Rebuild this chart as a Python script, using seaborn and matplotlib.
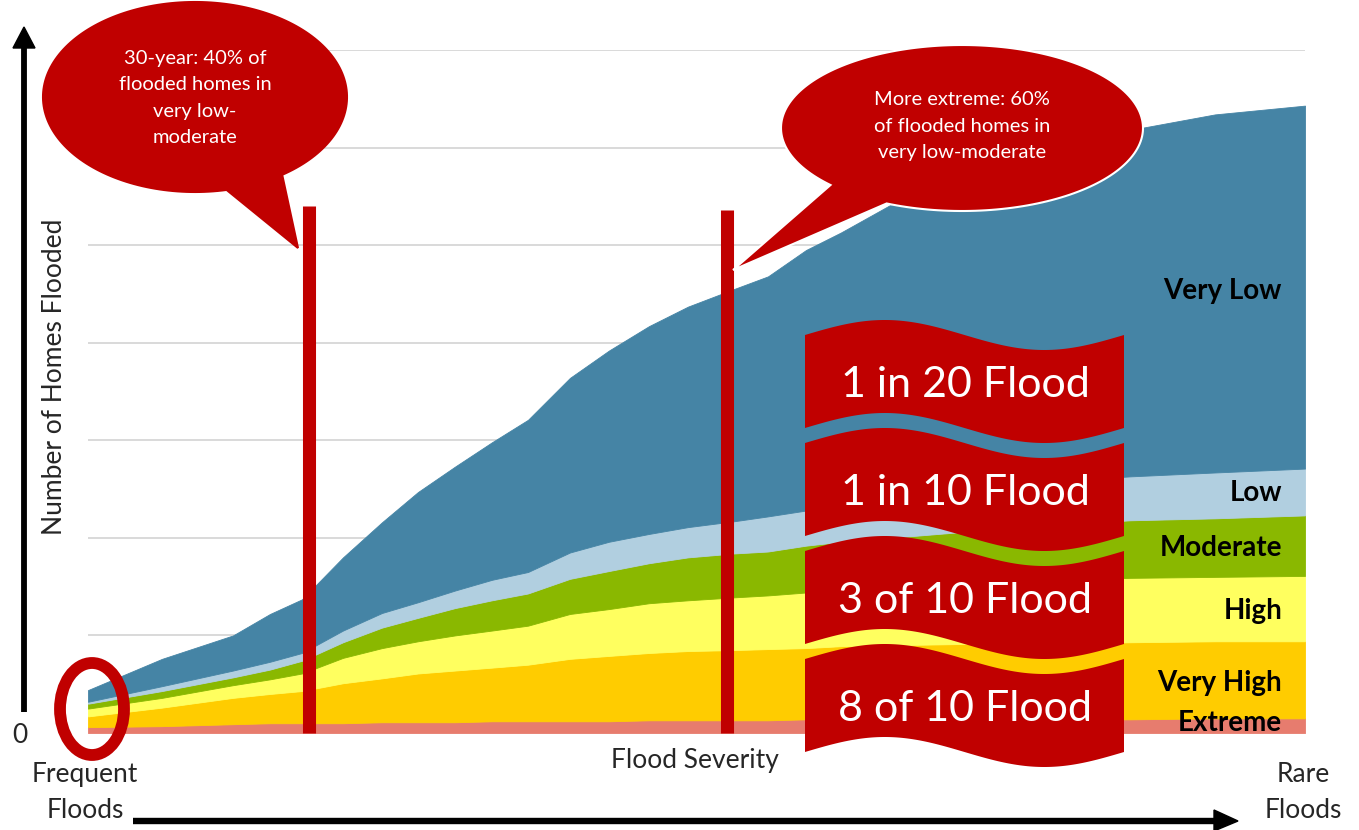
import numpy as np
import matplotlib
matplotlib.use("Agg")
import matplotlib.pyplot as plt
import seaborn as sns
from matplotlib.patches import Ellipse, Polygon
from matplotlib.transforms import Affine2D

W, H = 1359, 830

# ---- data (stacked layer thicknesses) ----
severity = [0, 74, 145, 182, 214, 255, 294, 330, 367, 404, 440, 482, 521, 561,
            600, 646, 680, 718, 753, 802, 862, 922, 982, 1042, 1127, 1217]
extreme = [6, 7, 9, 10, 10, 10, 11, 11, 11, 12, 12, 12, 12, 13, 13, 13, 13, 14,
           14, 14, 14, 14, 14, 14, 15, 15]
very_high = [11, 19, 27, 30, 33, 41, 45, 50, 53, 55, 58, 64, 67, 69, 71, 72, 73,
             73, 75, 76, 77, 78, 78, 79, 79, 79]
high = [8, 10, 13, 15, 18, 26, 31, 33, 36, 38, 40, 46, 48, 51, 52, 54, 55, 57,
        57, 58, 60, 62, 65, 66, 66, 67]
moderate = [5, 7, 8, 10, 13, 16, 21, 24, 28, 31, 33, 36, 39, 41, 44, 45, 45, 48,
            50, 52, 54, 56, 57, 59, 60, 62]
low = [2, 5, 7, 8, 8, 12, 15, 16, 18, 21, 22, 27, 30, 30, 31, 33, 36, 36, 36,
       38, 41, 44, 45, 45, 47, 48]
very_low = [12, 28, 36, 49, 55, 75, 93, 113, 127, 141, 156, 179, 196, 213, 226,
            238, 246, 267, 281, 303, 320, 333, 345, 355, 367, 372]

layer_names = ["Extreme", "Very High", "High", "Moderate", "Low", "Very Low"]
layer_colors = ["#E77C6E", "#FFCC00", "#FFFF5F", "#8AB800", "#B1CFE0", "#4584A5"]

marker_severity = [221, 639]      # 30-year and "more extreme" markers
marker_height = [540, 536]

banner_texts = ["1 in 20 Flood", "1 in 10 Flood", "3 of 10 Flood", "8 of 10 Flood"]

RED = "#C00000"

sns.set_theme(style="white")
plt.rcParams["font.family"] = ["Lato", "DejaVu Sans"]

fig = plt.figure(figsize=(W / 100, H / 100), dpi=100)
ax = fig.add_axes([88 / W, 97 / H, 1217 / W, 683 / H])
px = Affine2D().scale(1 / W, -1 / H).translate(0, 1) + fig.transFigure

ax.stackplot(severity, extreme, very_high, high, moderate, low, very_low,
             colors=sns.color_palette(layer_colors), linewidth=0.6,
             edgecolor="face", zorder=2)
ax.set_xlim(0, 1217)
ax.set_ylim(0, 700)
ax.set_yticks(range(100, 701, 100))
ax.set_yticklabels([])
ax.set_xticks([])
ax.tick_params(length=0)
ax.grid(axis="y", color="#D9D9D9", lw=1.4)
ax.set_axisbelow(True)
sns.despine(ax=ax, left=True, bottom=True)

# red marker bars
ax.vlines(marker_severity, 0, marker_height, colors=RED, lw=9.4,
          zorder=4, clip_on=False)

# layer labels
label_px = [(723, "Extreme"), (683, "Very High"), (611, "High"),
            (548, "Moderate"), (493, "Low"), (291, "Very Low")]
for y, t in label_px:
    fig.text(1282, y, t, transform=px, ha="right", va="center",
             fontsize=20, fontweight="bold", color="black", zorder=6)

# axis arrows
fig.add_artist(plt.Line2D([24, 24], [712, 45], transform=px, color="black",
                          lw=4.2, solid_capstyle="butt"))
fig.add_artist(Polygon([[13, 48], [35, 48], [24, 27]], closed=True,
                       transform=px, color="black"))
fig.add_artist(plt.Line2D([133, 1217], [821, 821], transform=px, color="black",
                          lw=4.6, solid_capstyle="butt"))
fig.add_artist(Polygon([[1214, 810], [1214, 831], [1238, 821]], closed=True,
                       transform=px, color="black"))

# axis texts
fig.text(55, 377, "Number of Homes Flooded", transform=px, rotation=90,
         ha="center", va="center", fontsize=19)
fig.text(20, 735, "0", transform=px, ha="center", va="center", fontsize=19)
fig.text(85, 792, "Frequent\nFloods", transform=px, ha="center", va="center",
         fontsize=19, linespacing=1.55)
fig.text(1303, 792, "Rare\nFloods", transform=px, ha="center", va="center",
         fontsize=19, linespacing=1.55)
fig.text(695, 760, "Flood Severity", transform=px, ha="center", va="center",
         fontsize=19)

# red ring at the origin
fig.add_artist(Ellipse((92, 709), 64, 92, transform=px, fill=False,
                       edgecolor=RED, lw=8.5, zorder=7))


def callout(cx, cy, a, b, ang1, ang2, tip, edge):
    t = np.radians(np.linspace(ang1, ang2 + 360, 200))
    pts = np.column_stack([cx + a * np.cos(t), cy + b * np.sin(t)])
    pts = np.vstack([pts, tip])
    fig.add_artist(Polygon(pts, closed=True, transform=px, facecolor=RED,
                           edgecolor=edge, lw=1.5, zorder=8))


callout(195, 97, 152, 95, 78, 55, [298, 248], RED)
fig.text(195, 98, "30-year: 40% of\nflooded homes in\nvery low-\nmoderate",
         transform=px, ha="center", va="center", color="white", fontsize=14.5,
         linespacing=1.68, zorder=9)

callout(962, 128, 181, 83, 136.6, 114.6, [733, 270], "white")
fig.text(962, 126, "More extreme: 60%\nof flooded homes in\nvery low-moderate",
         transform=px, ha="center", va="center", color="white", fontsize=14.5,
         linespacing=1.68, zorder=9)

# wavy banners
tt = np.linspace(0, 1, 120)
for k, txt in enumerate(banner_texts):
    y0 = 335 + 108 * k
    xs = 805 + 319 * tt
    top = y0 - 15 * np.sin(2 * np.pi * tt)
    pts = np.vstack([np.column_stack([xs, top]),
                     np.column_stack([xs[::-1], top[::-1] + 93])])
    fig.add_artist(Polygon(pts, closed=True, transform=px, facecolor=RED,
                           edgecolor="none", zorder=8))
    fig.text(965, y0 + 50, txt, transform=px, ha="center", va="center",
             color="white", fontsize=31, zorder=9)

fig.savefig("out.png", dpi=100)
